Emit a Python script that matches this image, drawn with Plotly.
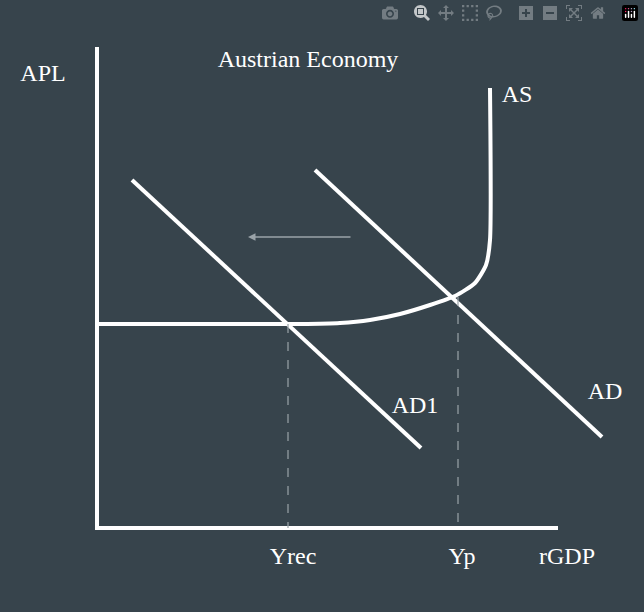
import plotly.graph_objects as go

BG = "#37444c"
# diagram coordinates (pixel-like space, y downward)
axis_x = [97, 97, 558]
axis_y = [47, 528, 528]
as_x = [97, 300, 340, 370, 400, 430, 455, 475, 486, 490, 490]
as_y = [324, 324, 323, 320, 314, 305, 296, 283, 265, 240, 88]
ad_x = [315, 602]
ad_y = [170, 437]
ad1_x = [132, 421]
ad1_y = [180, 448]
dash1_x = [288, 288]; dash1_y = [324, 528]
dash2_x = [458, 458]; dash2_y = [297, 528]
labels = ["APL", "Austrian Economy", "AS", "AD", "AD1", "Yrec", "Yp", "rGDP"]
label_x = [43, 308, 517, 605, 415, 293, 462, 567]
label_y = [75, 61, 96, 393, 407, 558, 558, 558]

fig = go.Figure()
W = dict(color="white", width=4)
for xs, ys in [(axis_x, axis_y), (as_x, as_y), (ad_x, ad_y), (ad1_x, ad1_y)]:
    fig.add_trace(go.Scatter(x=xs, y=ys, mode="lines", line=dict(W, shape="spline", smoothing=0.6) if xs is as_x else W, hoverinfo="skip"))
for xs, ys in [(dash1_x, dash1_y), (dash2_x, dash2_y)]:
    fig.add_trace(go.Scatter(x=xs, y=ys, mode="lines", line=dict(color="#9aa3a8", width=1.2, dash="dash"), hoverinfo="skip"))
fig.add_trace(go.Scatter(x=label_x, y=label_y, mode="text", text=labels,
                         textfont=dict(family="Liberation Serif, DejaVu Serif, serif", size=24, color="white"), hoverinfo="skip"))
fig.add_annotation(x=248, y=237, ax=352, ay=237, xref="x", yref="y", axref="x", ayref="y",
                   showarrow=True, arrowhead=2, arrowsize=1, arrowwidth=1.5, arrowcolor="#9aa3a8", text="")
fig.update_layout(width=644, height=612, margin=dict(l=0, r=0, t=0, b=0),
                  paper_bgcolor=BG, plot_bgcolor=BG, showlegend=False,
                  xaxis=dict(range=[0, 644], visible=False),
                  yaxis=dict(range=[612, 0], visible=False))
fig.write_html("out.html", post_script="document.body.style.margin='0';document.body.style.background='%s';" % BG)
